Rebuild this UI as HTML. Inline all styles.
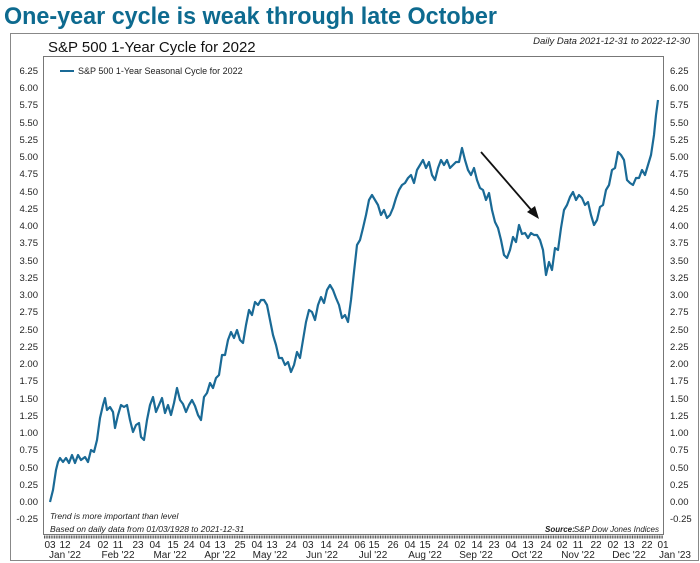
<!DOCTYPE html>
<html><head><meta charset="utf-8"><style>
body{margin:0;background:#fff;}
svg{display:block;font-family:"Liberation Sans",sans-serif;}
</style></head><body>
<svg width="700" height="563" viewBox="0 0 700 563">
<text x="4" y="24" font-size="24" fill="#0d6a8f" font-weight="bold" textLength="493" lengthAdjust="spacingAndGlyphs">One-year cycle is weak through late October</text>
<rect x="10.5" y="33.5" width="688" height="527" fill="none" stroke="#888" stroke-width="1"/>
<text x="48" y="52" font-size="15" fill="#111">S&amp;P 500 1-Year Cycle for 2022</text>
<text x="690" y="44" font-size="9.5" font-style="italic" text-anchor="end" fill="#222">Daily Data 2021-12-31 to 2022-12-30</text>
<rect x="43.5" y="56.5" width="620" height="478" fill="none" stroke="#777" stroke-width="1"/>
<g font-size="9.5" fill="#222">
<text x="38" y="74" text-anchor="end">6.25</text><text x="38" y="91" text-anchor="end">6.00</text><text x="38" y="108" text-anchor="end">5.75</text><text x="38" y="126" text-anchor="end">5.50</text><text x="38" y="143" text-anchor="end">5.25</text><text x="38" y="160" text-anchor="end">5.00</text><text x="38" y="177" text-anchor="end">4.75</text><text x="38" y="195" text-anchor="end">4.50</text><text x="38" y="212" text-anchor="end">4.25</text><text x="38" y="229" text-anchor="end">4.00</text><text x="38" y="246" text-anchor="end">3.75</text><text x="38" y="264" text-anchor="end">3.50</text><text x="38" y="281" text-anchor="end">3.25</text><text x="38" y="298" text-anchor="end">3.00</text><text x="38" y="315" text-anchor="end">2.75</text><text x="38" y="333" text-anchor="end">2.50</text><text x="38" y="350" text-anchor="end">2.25</text><text x="38" y="367" text-anchor="end">2.00</text><text x="38" y="384" text-anchor="end">1.75</text><text x="38" y="402" text-anchor="end">1.50</text><text x="38" y="419" text-anchor="end">1.25</text><text x="38" y="436" text-anchor="end">1.00</text><text x="38" y="453" text-anchor="end">0.75</text><text x="38" y="471" text-anchor="end">0.50</text><text x="38" y="488" text-anchor="end">0.25</text><text x="38" y="505" text-anchor="end">0.00</text><text x="38" y="522" text-anchor="end">-0.25</text>
</g>
<g font-size="9.5" fill="#222">
<text x="670" y="74">6.25</text><text x="670" y="91">6.00</text><text x="670" y="108">5.75</text><text x="670" y="126">5.50</text><text x="670" y="143">5.25</text><text x="670" y="160">5.00</text><text x="670" y="177">4.75</text><text x="670" y="195">4.50</text><text x="670" y="212">4.25</text><text x="670" y="229">4.00</text><text x="670" y="246">3.75</text><text x="670" y="264">3.50</text><text x="670" y="281">3.25</text><text x="670" y="298">3.00</text><text x="670" y="315">2.75</text><text x="670" y="333">2.50</text><text x="670" y="350">2.25</text><text x="670" y="367">2.00</text><text x="670" y="384">1.75</text><text x="670" y="402">1.50</text><text x="670" y="419">1.25</text><text x="670" y="436">1.00</text><text x="670" y="453">0.75</text><text x="670" y="471">0.50</text><text x="670" y="488">0.25</text><text x="670" y="505">0.00</text><text x="670" y="522">-0.25</text>
</g>
<line x1="60" y1="71" x2="74" y2="71" stroke="#1a6a96" stroke-width="2"/>
<text x="78" y="74" font-size="9" fill="#222">S&amp;P 500 1-Year Seasonal Cycle for 2022</text>
<text x="50" y="519" font-size="8.5" font-style="italic" fill="#222">Trend is more important than level</text>
<text x="50" y="532" font-size="8.5" font-style="italic" fill="#222">Based on daily data from 01/03/1928 to 2021-12-31</text>
<text x="545" y="532" font-size="8" font-style="italic" font-weight="bold" fill="#222">Source:</text>
<text x="659" y="532" font-size="8" font-style="italic" fill="#222" text-anchor="end">S&amp;P Dow Jones Indices</text>
<line x1="44" y1="537" x2="663" y2="537" stroke="#555" stroke-width="3" stroke-dasharray="1 0.68"/>
<g font-size="10" fill="#222" text-anchor="middle">
<text x="50" y="548">03</text><text x="65" y="548">12</text><text x="85" y="548">24</text><text x="103" y="548">02</text><text x="118" y="548">11</text><text x="138" y="548">23</text><text x="155" y="548">04</text><text x="173" y="548">15</text><text x="189" y="548">24</text><text x="205" y="548">04</text><text x="220" y="548">13</text><text x="240" y="548">25</text><text x="257" y="548">04</text><text x="272" y="548">13</text><text x="291" y="548">24</text><text x="308" y="548">03</text><text x="326" y="548">14</text><text x="343" y="548">24</text><text x="360" y="548">06</text><text x="374" y="548">15</text><text x="393" y="548">26</text><text x="410" y="548">04</text><text x="425" y="548">15</text><text x="443" y="548">24</text><text x="460" y="548">02</text><text x="477" y="548">14</text><text x="494" y="548">23</text><text x="511" y="548">04</text><text x="528" y="548">13</text><text x="546" y="548">24</text><text x="562" y="548">02</text><text x="578" y="548">11</text><text x="596" y="548">22</text><text x="613" y="548">02</text><text x="629" y="548">13</text><text x="647" y="548">22</text><text x="663" y="548">01</text>
<text x="65" y="558">Jan '22</text><text x="118" y="558">Feb '22</text><text x="170" y="558">Mar '22</text><text x="220" y="558">Apr '22</text><text x="270" y="558">May '22</text><text x="322" y="558">Jun '22</text><text x="373" y="558">Jul '22</text><text x="425" y="558">Aug '22</text><text x="476" y="558">Sep '22</text><text x="527" y="558">Oct '22</text><text x="578" y="558">Nov '22</text><text x="629" y="558">Dec '22</text><text x="675" y="558">Jan '23</text>
</g>
<polyline fill="none" stroke="#1a6a96" stroke-width="2.2" stroke-linejoin="round" points="50,502 53,490 56,470 58,462 60,458 63,462 66,458 69,463 72,455 75,463 78,455 81,460 85,457 88,462 91,450 94,452 97,440 100,418 103,405 105,398 107,410 110,407 113,412 115,428 118,415 121,405 124,407 127,405 130,420 133,432 136,425 139,423 141,437 144,440 147,420 150,405 153,397 156,412 159,405 162,398 165,413 168,405 171,415 174,403 177,388 180,400 183,404 186,412 189,405 192,400 195,406 198,415 201,420 204,397 207,393 210,383 213,388 216,378 219,375 222,355 225,355 228,340 231,332 234,338 237,330 240,340 243,343 246,325 249,310 252,315 255,302 258,305 261,300 264,300 267,305 270,320 273,335 276,345 279,358 282,358 285,365 288,362 291,372 294,365 297,352 300,358 303,340 306,322 309,310 312,312 315,320 318,305 321,297 324,303 327,290 330,285 333,290 336,298 339,305 342,318 345,315 348,322 351,300 354,272 357,245 360,240 363,228 366,215 369,200 372,195 375,200 378,205 381,215 384,210 387,218 390,215 393,208 396,198 399,190 402,185 405,183 408,178 411,175 414,183 417,170 420,165 423,160 426,168 429,162 432,175 435,180 438,168 441,160 444,165 447,160 450,168 453,165 456,162 459,162 462,148 465,160 468,170 471,175 474,168 477,180 480,188 483,190 486,200 489,193 492,210 495,222 498,228 501,240 504,255 507,258 510,250 513,237 516,242 519,225 522,234 525,233 528,238 531,233 534,235 537,235 540,240 543,250 546,275 549,262 552,270 555,248 558,250 561,228 564,210 567,205 570,197 573,192 576,200 579,195 582,198 585,205 588,202 591,215 594,225 597,220 600,207 603,205 606,190 609,185 612,170 615,168 618,152 621,155 624,160 627,180 630,183 633,185 636,178 639,178 642,170 645,175 648,165 651,155 654,135 656,115 658,100"/>
<line x1="481" y1="152" x2="533" y2="212" stroke="#111" stroke-width="1.8"/>
<polygon points="539,219 527,212 535,206" fill="#111"/>
</svg>
</body></html>
